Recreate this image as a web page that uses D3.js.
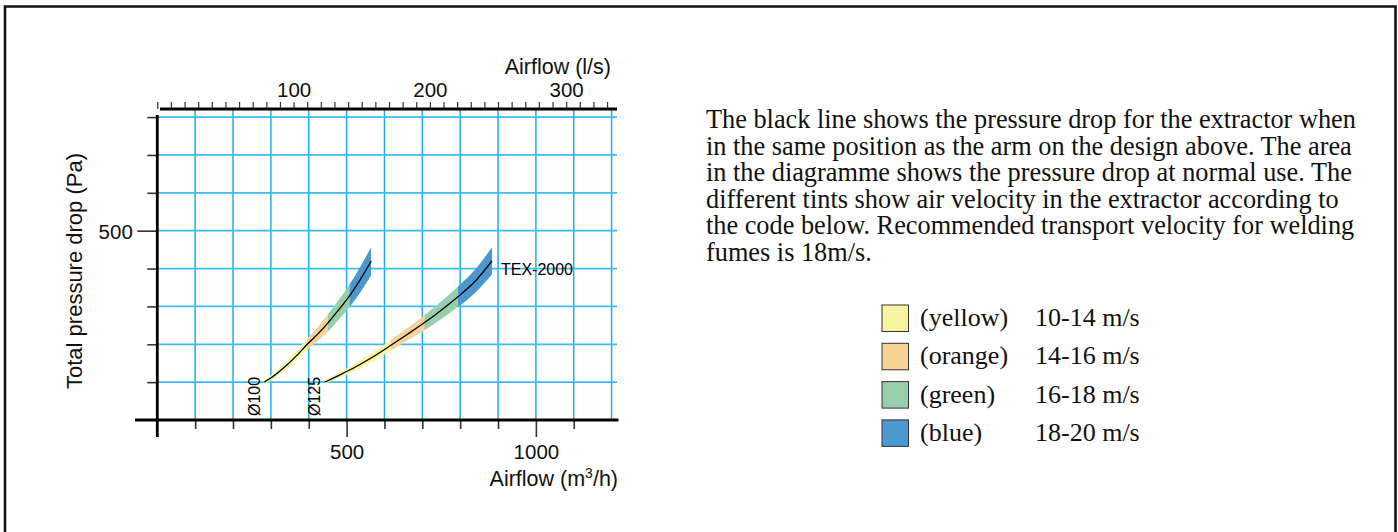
<!DOCTYPE html>
<html>
<head>
<meta charset="utf-8">
<script src="https://cdnjs.cloudflare.com/ajax/libs/d3/7.8.5/d3.min.js"></script>
<style>
	html, body { margin: 0; padding: 0; background: #fff; }
	svg { display: block; }
	.sans { font-family: "Liberation Sans", Arial, sans-serif; }
	.serif { font-family: "Liberation Serif", "Times New Roman", serif; }
</style>
</head>
<body>
<div id="chart"></div>
<script>

// Ø100 curve : airflow (m3/h), pressure drop (Pa), half width of the tinted band (Pa)
var flow100 = [283, 310, 340, 370, 396, 425, 452, 480, 509, 537, 565];
var drop100 = [100, 118, 143, 172, 200, 228, 258, 292, 330, 372, 420];
var spread100 = [6, 8, 10, 12, 15, 19, 23, 26, 30, 34, 37];
// flows where the tint changes (10, 14, 16, 18, 20 m/s)
var edges100 = [283, 396, 452, 509, 565];

// Ø125 curve (TEX-2000)
var flow125 = [442, 480, 520, 570, 618, 660, 707, 750, 795, 840, 884];
var drop125 = [100, 118, 138, 167, 198, 226, 258, 290, 326, 367, 420];
var spread125 = [5, 7, 9, 11, 14, 16, 20, 23, 27, 31, 36];
var edges125 = [442, 618, 707, 795, 884];

var bandNames = ["(yellow)", "(orange)", "(green)", "(blue)"];
var bandSpeeds = ["10-14 m/s", "14-16 m/s", "16-18 m/s", "18-20 m/s"];
var bandColors = ["#f8f4a1", "#f7d296", "#97cfab", "#4b98d1"];

var flowTicks = [100, 200, 300, 400, 500, 600, 700, 800, 900, 1000, 1100];
var flowGrid = [100, 200, 300, 400, 500, 600, 700, 800, 900, 1000, 1100, 1200];
var flowLabels = [500, 1000];
var dropTicks = [100, 200, 300, 400, 500, 600, 700, 800];
var dropLabels = [500];
var litreTicks = d3.range(0, 331, 10);
var litreLabels = [100, 200, 300];

var paragraph = [
	"The black line shows the pressure drop for the extractor when",
	"in the same position as the arm on the design above. The area",
	"in the diagramme shows the pressure drop at normal use. The",
	"different tints show air velocity in the extractor according to",
	"the code below. Recommended transport velocity for welding",
	"fumes is 18m/s."
];

var W = 1398, H = 532;

var svg = d3.select("#chart").append("svg")
	.attr("width", W)
	.attr("height", H);

svg.append("rect").attr("width", W).attr("height", H).attr("fill", "#fff");

// frame, open at the bottom
svg.append("path")
	.attr("d", "M5,545V6.5H1395.5V545")
	.attr("fill", "none")
	.attr("stroke", "#111")
	.attr("stroke-width", 2.6);

var x = d3.scaleLinear().domain([0, 1200]).range([157.3, 611.6]);
var xLs = d3.scaleLinear().domain([0, 1200 / 3.6]).range([157.3, 611.6]);
var y = d3.scaleLinear().domain([0, 800]).range([420, 117.1]);

var plot = svg.append("g");

//grid
plot.append("g").selectAll("line")
	.data(flowGrid)
	.enter().append("line")
	.attr("x1", d => x(d)).attr("x2", d => x(d))
	.attr("y1", 110).attr("y2", 420)
	.attr("stroke", "#1eafed")
	.attr("stroke-width", 1.5);

plot.append("g").selectAll("line")
	.data(dropTicks)
	.enter().append("line")
	.attr("x1", x(0)).attr("x2", 617)
	.attr("y1", d => y(d)).attr("y2", d => y(d))
	.attr("stroke", "#3dbcf0")
	.attr("stroke-width", 1.8);

// bands + black lines
function drawCurve(flows, drops, spreads, edges, id) {
	var pts = flows.map((q, i) => ({ q: q, p: drops[i], s: spreads[i] }));
	var area = d3.area()
		.x(d => x(d.q))
		.y0(d => y(d.p - d.s))
		.y1(d => y(d.p + d.s))
		.curve(d3.curveMonotoneX);

	for (var i = 0; i < edges.length - 1; i++) {
		var clipId = "clip-" + id + "-" + i;
		svg.append("clipPath").attr("id", clipId)
			.append("rect")
			.attr("x", x(edges[i]) - (i > 0 ? 0.3 : 0))
			.attr("width", x(edges[i + 1]) - x(edges[i]) + 0.3)
			.attr("y", 0)
			.attr("height", H);
		plot.append("path")
			.datum(pts)
			.attr("d", area)
			.attr("fill", bandColors[i])
			.attr("clip-path", "url(#" + clipId + ")");
	}

	plot.append("path")
		.datum(pts)
		.attr("d", d3.line().x(d => x(d.q)).y(d => y(d.p)).curve(d3.curveMonotoneX))
		.attr("fill", "none")
		.attr("stroke", "#000")
		.attr("stroke-width", 1.3);
}

drawCurve(flow100, drop100, spread100, edges100, "d100");
drawCurve(flow125, drop125, spread125, edges125, "d125");

// curve labels
plot.append("text")
	.attr("class", "sans")
	.attr("transform", "translate(" + (x(flow100[0]) - 4.5) + ",416) rotate(-90)")
	.attr("font-size", 16)
	.text("Ø100");

plot.append("text")
	.attr("class", "sans")
	.attr("transform", "translate(" + (x(flow125[0]) - 4.5) + ",416) rotate(-90)")
	.attr("font-size", 16)
	.text("Ø125");

plot.append("text")
	.attr("class", "sans")
	.attr("x", x(flow125[flow125.length - 1]) + 9)
	.attr("y", y(drop125[drop125.length - 1]) + 14)
	.attr("font-size", 16)
	.text("TEX-2000");

// axes
var bottomAxis = plot.append("g")
	.attr("transform", "translate(0,420)")
	.call(d3.axisBottom(x)
		.tickValues(flowTicks)
		.tickSize(9)
		.tickFormat(d => flowLabels.includes(d) ? d : ""));
bottomAxis.select(".domain").remove();
bottomAxis.selectAll(".tick line")
	.attr("stroke", "#333")
	.attr("stroke-width", 1.6)
	.attr("y2", d => flowLabels.includes(d) ? 17 : 9);
bottomAxis.selectAll(".tick text")
	.attr("class", "sans")
	.attr("font-size", 20.5)
	.attr("fill", "#111")
	.attr("y", 39)
	.attr("dy", 0);

var leftAxis = plot.append("g")
	.attr("transform", "translate(" + x(0) + ",0)")
	.call(d3.axisLeft(y)
		.tickValues(dropTicks)
		.tickSize(10)
		.tickFormat(d => dropLabels.includes(d) ? d : ""));
leftAxis.select(".domain").remove();
leftAxis.selectAll(".tick line")
	.attr("stroke", "#333")
	.attr("stroke-width", 1.6)
	.attr("x2", d => dropLabels.includes(d) ? -20 : -10);
leftAxis.selectAll(".tick text")
	.attr("class", "sans")
	.attr("font-size", 20.5)
	.attr("fill", "#111")
	.attr("x", -24.5)
	.attr("dy", "0.37em");

var topAxis = plot.append("g")
	.attr("transform", "translate(0,109)")
	.call(d3.axisTop(xLs)
		.tickValues(litreTicks)
		.tickSize(7)
		.tickFormat(d => litreLabels.includes(d) ? d : ""));
topAxis.select(".domain").remove();
topAxis.selectAll(".tick line")
	.attr("stroke", "#333")
	.attr("stroke-width", 1.2);
topAxis.selectAll(".tick text")
	.attr("class", "sans")
	.attr("font-size", 20.5)
	.attr("fill", "#111")
	.attr("y", -12.5)
	.attr("dy", 0);

// heavy axis lines
plot.append("line").attr("x1", 135).attr("x2", 618.5).attr("y1", 420).attr("y2", 420)
	.attr("stroke", "#000").attr("stroke-width", 2.8);
plot.append("line").attr("x1", x(0)).attr("x2", x(0)).attr("y1", 115).attr("y2", 437)
	.attr("stroke", "#000").attr("stroke-width", 2.8);
plot.append("line").attr("x1", 160).attr("x2", 617).attr("y1", 109).attr("y2", 109)
	.attr("stroke", "#000").attr("stroke-width", 2.8);

// axis titles
var bottomTitle = plot.append("text")
	.attr("class", "sans")
	.attr("x", 618)
	.attr("y", 486)
	.attr("text-anchor", "end")
	.attr("font-size", 21.5)
	.attr("fill", "#111");
bottomTitle.append("tspan").text("Airflow (m");
bottomTitle.append("tspan").attr("font-size", 14).attr("dy", -8).text("3");
bottomTitle.append("tspan").attr("dy", 8).text("/h)");

plot.append("text")
	.attr("class", "sans")
	.attr("x", 611)
	.attr("y", 73.5)
	.attr("text-anchor", "end")
	.attr("font-size", 21.5)
	.attr("fill", "#111")
	.text("Airflow (l/s)");

plot.append("text")
	.attr("class", "sans")
	.attr("transform", "translate(81.5,389) rotate(-90)")
	.attr("font-size", 22)
	.attr("fill", "#111")
	.text("Total pressure drop (Pa)");

// explanation text
svg.append("g").selectAll("text")
	.data(paragraph)
	.enter().append("text")
	.attr("class", "serif")
	.attr("x", 706)
	.attr("y", (d, i) => 128 + i * 26.6)
	.attr("font-size", 26.3)
	.attr("fill", "#111")
	.text(d => d);

// legend
var legend = svg.append("g").selectAll("g")
	.data(bandNames)
	.enter().append("g")
	.attr("transform", (d, i) => "translate(882," + (305 + i * 38.3) + ")");

legend.append("rect")
	.attr("width", 26.5)
	.attr("height", 26.5)
	.attr("fill", (d, i) => bandColors[i])
	.attr("stroke", "#333")
	.attr("stroke-width", 1);

legend.append("text")
	.attr("class", "serif")
	.attr("x", 38)
	.attr("y", 21)
	.attr("font-size", 26)
	.attr("fill", "#111")
	.text(d => d);

legend.append("text")
	.attr("class", "serif")
	.attr("x", 153)
	.attr("y", 21)
	.attr("font-size", 26)
	.attr("fill", "#111")
	.text((d, i) => bandSpeeds[i]);

</script>
</body>
</html>
